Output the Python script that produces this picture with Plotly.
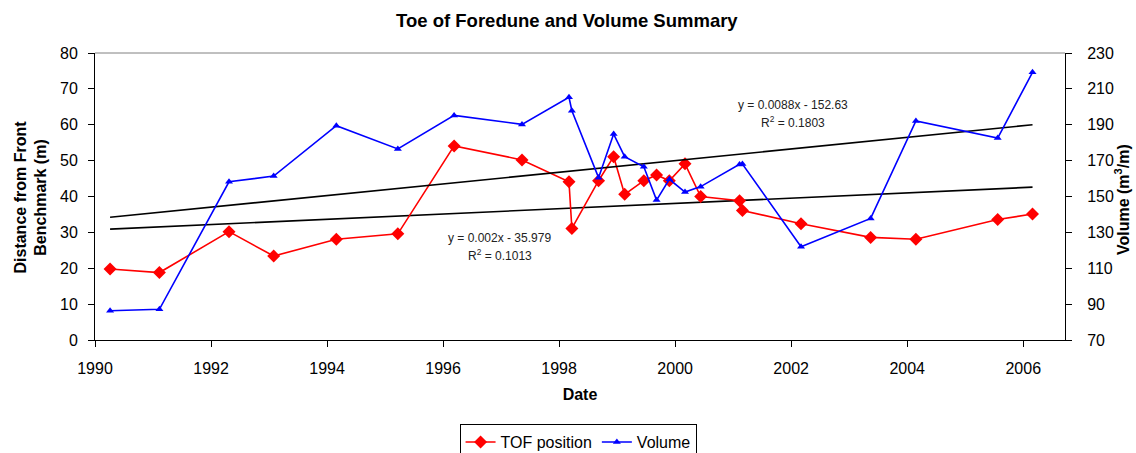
import plotly.graph_objects as go

# ---- data ----
dates = [1990.26, 1991.11, 1992.31, 1993.08, 1994.16, 1995.22, 1996.19, 1997.36,
         1998.17, 1998.22, 1998.68, 1998.94, 1999.13, 1999.46, 1999.68, 1999.90,
         2000.17, 2000.44, 2001.11, 2001.16, 2002.17, 2003.37, 2004.15, 2005.56,
         2006.16]
tof_position = [19.8, 18.8, 30.2, 23.4, 28.1, 29.6, 54.1, 50.2, 44.1, 31.1, 44.4,
                51.1, 40.6, 44.4, 46.0, 44.4, 49.1, 40.0, 38.8, 36.1, 32.4, 28.6,
                28.1, 33.6, 35.1]
volume = [86.3, 87.1, 158.2, 161.4, 189.5, 176.5, 195.2, 190.2, 205.3, 197.8, 160.5,
          184.8, 172.2, 166.6, 148.0, 159.6, 152.5, 155.5, 167.9, 168.1, 122.0, 137.8,
          192.1, 182.6, 219.2]

trend_x = [1990.26, 2006.16]
tof_trend = [30.9, 42.6]
volume_trend = [138.4, 190.0]

tof_eq = ["y = 0.002x - 35.979", "R<sup>2</sup> = 0.1013"]
vol_eq = ["y = 0.0088x - 152.63", "R<sup>2</sup> = 0.1803"]

x_ticks = list(range(1990, 2007, 2))
y_ticks = list(range(0, 81, 10))
y2_ticks = list(range(70, 231, 20))
title = "Toe of Foredune and Volume Summary"
y_title = "Distance from Front<br>Benchmark (m)"
y2_title = "Volume (m<sup>3</sup>/m)"

FONT = "Liberation Sans, Arial, sans-serif"
W, H = 1136, 453
ML, MR, MT, MB = 95, 71, 53, 113
PW, PH = W - ML - MR, H - MT - MB

fig = go.Figure()

fig.add_trace(go.Scatter(x=trend_x, y=tof_trend, mode="lines",
                         line=dict(color="black", width=1.6),
                         showlegend=False, hoverinfo="skip"))
fig.add_trace(go.Scatter(x=trend_x, y=volume_trend, mode="lines", yaxis="y2",
                         line=dict(color="black", width=1.6),
                         showlegend=False, hoverinfo="skip"))

fig.add_trace(go.Scatter(x=dates, y=tof_position, mode="lines+markers",
                         name="TOF position",
                         line=dict(color="#ff0000", width=1.6),
                         marker=dict(symbol="diamond", size=10, color="#ff0000")))
fig.add_trace(go.Scatter(x=dates, y=volume, mode="lines+markers", yaxis="y2",
                         name="Volume",
                         line=dict(color="#0000ff", width=1.6),
                         marker=dict(symbol="triangle-up", size=7, color="#0000ff")))

# trendline equation labels
fig.add_annotation(x=1996.98, y=28.3, text=tof_eq[0], showarrow=False,
                   font=dict(size=12, color="#222"))
fig.add_annotation(x=1996.98, y=23.7, text=tof_eq[1], showarrow=False,
                   font=dict(size=12, color="#222"))
fig.add_annotation(x=2002.03, y=65.5, text=vol_eq[0], showarrow=False,
                   font=dict(size=12, color="#222"))
fig.add_annotation(x=2002.03, y=60.9, text=vol_eq[1], showarrow=False,
                   font=dict(size=12, color="#222"))

# axis titles (placed in paper coordinates)
fig.add_annotation(xref="paper", yref="paper", x=(30.5 - ML) / PW,
                   y=(MT + PH - 197) / PH, text="<b>" + y_title + "</b>",
                   textangle=-90, showarrow=False, font=dict(size=16),
                   xanchor="center", yanchor="middle")
fig.add_annotation(xref="paper", yref="paper", x=(1122 - ML) / PW,
                   y=(MT + PH - 200) / PH, text="<b>" + y2_title + "</b>",
                   textangle=-90, showarrow=False, font=dict(size=16),
                   xanchor="center", yanchor="middle")

# gray top border of plot area
fig.add_shape(type="line", xref="paper", yref="paper", x0=0, x1=1, y0=1, y1=1,
              line=dict(color="#808080", width=1))

fig.update_layout(
    width=W, height=H,
    margin=dict(l=ML, r=MR, t=MT, b=MB, autoexpand=False),
    paper_bgcolor="white", plot_bgcolor="white",
    font=dict(family=FONT, size=16, color="black"),
    title=dict(text="<b>" + title + "</b>", x=0.499, xanchor="center",
               y=0.955, yanchor="middle", font=dict(size=18.5)),
    xaxis=dict(range=[1990, 2006.72], tickvals=x_ticks,
               ticktext=[str(v) for v in x_ticks],
               showgrid=False, zeroline=False, automargin=False,
               showline=True, linecolor="black", linewidth=1,
               ticks="outside", ticklen=6, tickcolor="black",
               ticklabelstandoff=8,
               title=dict(text="<b>Date</b>", font=dict(size=16), standoff=12)),
    yaxis=dict(range=[0, 80], tickvals=y_ticks, showgrid=False, zeroline=False,
               automargin=False, ticklabelstandoff=7,
               showline=True, linecolor="black", linewidth=1,
               ticks="outside", ticklen=6, tickcolor="black"),
    yaxis2=dict(range=[70, 230], tickvals=y2_ticks, overlaying="y", side="right",
                showgrid=False, zeroline=False, automargin=False,
                ticklabelstandoff=12,
                showline=True, linecolor="black", linewidth=1,
                ticks="outside", ticklen=6, tickcolor="black"),
    legend=dict(orientation="h", x=0.498, xanchor="center", y=-0.293,
                yanchor="top", bordercolor="black", borderwidth=1,
                font=dict(size=16), itemwidth=30, tracegroupgap=0),
    showlegend=True,
)

fig.write_html("out.html", config={"displayModeBar": False},
               post_script="document.body.style.margin='0';")
